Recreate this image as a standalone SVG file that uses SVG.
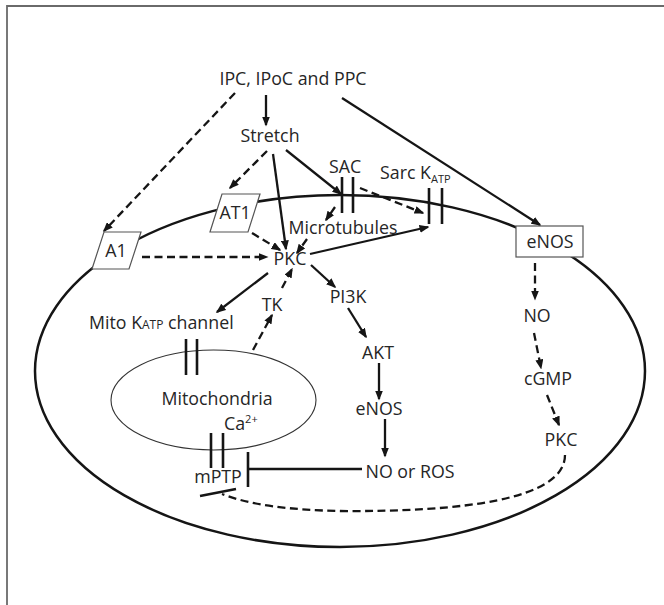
<svg xmlns="http://www.w3.org/2000/svg" width="664" height="605" viewBox="0 0 664 605">
<defs>
<style>
text{font-family:"Open Sans","Liberation Sans",sans-serif;font-size:17.8px;fill:#262626;}
.t{text-anchor:middle;}
.s{stroke:#151515;stroke-width:2.3;fill:none;}
.d{stroke:#151515;stroke-width:2.3;fill:none;stroke-dasharray:8 4.5;}
.a{marker-end:url(#ah);}
.bar{stroke:#151515;stroke-width:2.6;}
.box{fill:#fff;stroke:#555;stroke-width:1.2;}
</style>
<marker id="ah" viewBox="0 0 10 8" refX="8.5" refY="4" markerWidth="10" markerHeight="8" markerUnits="userSpaceOnUse" orient="auto"><path d="M0,0 L10,4 L0,8 z" fill="#151515"/></marker>
</defs>
<rect width="664" height="605" fill="#fff"/>
<path d="M7,605 V6 H664" fill="none" stroke="#6a6a6a" stroke-width="1.8"/>

<g id="cell"><ellipse cx="340" cy="371" rx="305" ry="176" fill="none" stroke="#151515" stroke-width="2.5"/></g>
<g id="mitochondria"><ellipse cx="213.5" cy="400" rx="102.5" ry="50" fill="none" stroke="#333" stroke-width="1.1"/>
<text class="t" x="217" y="405">Mitochondria</text>
<text x="224" y="430">Ca<tspan font-size="11" dy="-7">2+</tspan></text></g>

<g id="connectors">
<line class="s a" x1="266" y1="95" x2="266" y2="125"/>
<line class="d a" x1="235" y1="93" x2="104" y2="231"/>
<line class="s a" x1="342" y1="98" x2="540" y2="225"/>
<line class="d a" x1="267" y1="151" x2="230" y2="188"/>
<line class="s a" x1="273" y1="154" x2="286" y2="249"/>
<line class="s a" x1="286" y1="150" x2="341" y2="194"/>
<line class="d a" x1="360" y1="188" x2="423" y2="213"/>
<line class="d a" x1="335" y1="207" x2="326" y2="220"/>
<line class="s a" x1="310" y1="254" x2="428" y2="227"/>
<line class="d a" x1="142" y1="257" x2="267" y2="257"/>
<line class="d a" x1="252" y1="233" x2="280" y2="250"/>
<line class="d a" x1="307" y1="239" x2="297" y2="253"/>
<line class="s a" x1="268" y1="273" x2="217" y2="312"/>
<line class="d a" x1="253" y1="350" x2="272" y2="315"/>
<line class="d a" x1="282" y1="288" x2="292" y2="269"/>
<line class="s a" x1="311" y1="265" x2="335" y2="287"/>
<line class="s a" x1="348" y1="308" x2="366" y2="337"/>
<line class="s a" x1="379" y1="363" x2="379" y2="399"/>
<line class="s a" x1="385" y1="419" x2="385" y2="456"/>
<line class="s" x1="362" y1="469" x2="248" y2="469"/>
<line class="bar" x1="248" y1="452" x2="248" y2="487"/>
<line class="d a" x1="535" y1="263" x2="535" y2="299"/>
<line class="d a" x1="534" y1="333" x2="541" y2="368"/>
<line class="d a" x1="547" y1="395" x2="559" y2="425"/>
<path class="d" d="M565,455 C565,500 460,512 340,511 C290,510 250,505 222,494"/>
<line class="bar" x1="200" y1="496" x2="236" y2="489"/>
</g>

<g id="channels">
<line class="bar" x1="342" y1="177" x2="342" y2="213"/>
<line class="bar" x1="353" y1="177" x2="353" y2="213"/>
<line class="bar" x1="429" y1="188" x2="429" y2="224"/>
<line class="bar" x1="442" y1="188" x2="442" y2="224"/>
<line class="bar" x1="186" y1="339" x2="186" y2="375"/>
<line class="bar" x1="197" y1="339" x2="197" y2="375"/>
<line class="bar" x1="211" y1="433" x2="211" y2="468"/>
<line class="bar" x1="223" y1="433" x2="223" y2="468"/>
</g>

<g id="n-ipc"><text class="t" x="293" y="85">IPC, IPoC and PPC</text></g>
<g id="n-stretch"><text class="t" x="270" y="142">Stretch</text></g>
<g id="n-sac"><text class="t" x="345" y="173">SAC</text></g>
<g id="n-sarc"><text x="380" y="179">Sarc K<tspan font-size="11" dy="4">ATP</tspan></text></g>
<g id="n-a1"><polygon class="box" points="104,232 141,232 129,269 92,269"/><text class="t" x="116" y="257">A1</text></g>
<g id="n-at1"><polygon class="box" points="222,194 260,194 248,232 210,232"/><text class="t" x="235" y="219">AT1</text></g>
<g id="n-micro"><text class="t" x="343" y="234">Microtubules</text></g>
<g id="n-enos1"><rect class="box" x="516" y="226" width="67" height="31"/><text class="t" x="550" y="248">eNOS</text></g>
<g id="n-pkc"><text class="t" x="290" y="265">PKC</text></g>
<g id="n-tk"><text class="t" x="272" y="311">TK</text></g>
<g id="n-pi3k"><text class="t" x="348" y="303">PI3K</text></g>
<g id="n-mitok"><text x="89" y="329">Mito K<tspan font-size="12">ATP</tspan> channel</text></g>
<g id="n-akt"><text class="t" x="378" y="359">AKT</text></g>
<g id="n-enos2"><text class="t" x="379" y="415">eNOS</text></g>
<g id="n-noros"><text class="t" x="410" y="478">NO or ROS</text></g>
<g id="n-mptp"><text class="t" x="218" y="483">mPTP</text></g>
<g id="n-no"><text class="t" x="537" y="322">NO</text></g>
<g id="n-cgmp"><text class="t" x="548" y="385">cGMP</text></g>
<g id="n-pkc2"><text class="t" x="561" y="446">PKC</text></g>
</svg>
